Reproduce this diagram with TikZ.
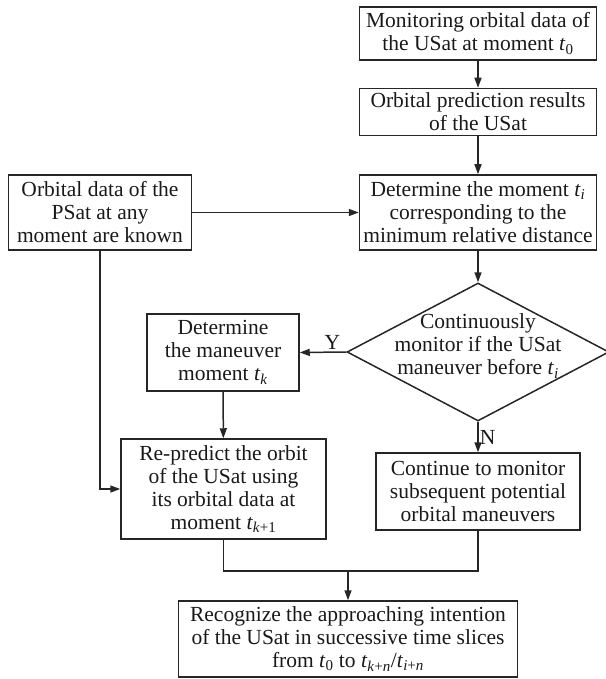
\documentclass[tikz,border=0pt]{standalone}
\usepackage{fontspec}
\setmainfont{Liberation Serif}
\usetikzlibrary{arrows.meta,shapes.geometric}
\newcommand\tsb[1]{\textit{t}\textsubscript{#1}}
\begin{document}
\begin{tikzpicture}[x=1pt,y=-1pt,
  box/.style={draw=black!85, line width=1.5pt, align=center, inner sep=0pt,
    font=\fontsize{21.5}{23}\selectfont, text=black!90},
  lbl/.style={font=\fontsize{21.5}{23}\selectfont, text=black!90, inner sep=2pt},
  conn/.style={draw=black!85, line width=1.5pt},
  arr/.style={conn, -{Triangle[length=10pt,width=7pt]}},
]
\useasboundingbox (0,0) rectangle (605,679);
\node[box, minimum width=237, minimum height=53] (n1) at (478,33.5)
  {Monitoring orbital data of\\the USat at moment \tsb{0}};
\node[box, minimum width=237, minimum height=47] (n2) at (478,112)
  {Orbital prediction results\\of the USat};
\node[box, minimum width=237, minimum height=75] (n3) at (478,212.5)
  {Determine the moment \tsb{\textit{i}}\\corresponding to the\\minimum relative distance};
\node[box, minimum width=183, minimum height=75] (nL) at (100,212.5)
  {Orbital data of the\\PSat at any\\moment are known};
\node[conn, diamond, minimum width=262, minimum height=138, inner sep=0pt] (d) at (478,352) {};
\node[lbl, align=center] (dt) at (478,346)
  {Continuously\\monitor if the USat\\maneuver before \tsb{\textit{i}}};
\node[box, minimum width=152, minimum height=77] (nM) at (223,352.5)
  {Determine\\the maneuver\\moment \tsb{\textit{k}}};
\node[box, minimum width=205, minimum height=100] (nR) at (223.5,489)
  {Re-predict the orbit\\of the USat using\\its orbital data at\\moment \tsb{\textit{k}+1}};
\node[box, minimum width=204, minimum height=77] (nC) at (478,491.5)
  {Continue to monitor\\subsequent potential\\orbital maneuvers};
\node[box, minimum width=339, minimum height=76] (nF) at (348,639)
  {Recognize the approaching intention\\of the USat in successive time slices\\from \tsb{0} to \tsb{\textit{k}+\textit{n}}/\tsb{\textit{i}+\textit{n}}};
\coordinate (m) at (348,571);

\draw[arr] (n1) -- (n2);
\draw[arr] (n2) -- (n3);
\draw[arr] (nL) -- (n3);
\draw[arr] (n3) -- (d.north);
\draw[arr] (d.west) -- node[lbl, above, pos=0.3] {Y} (nM.east);
\draw[arr] (d.south) -- node[lbl, right, inner sep=1pt] {N} (nC.north);
\draw[arr] (nM) -- (nR);
\draw[arr] (nL.south) |- (nR.west);
\draw[conn] (nR.south) |- (m);
\draw[conn] (nC.south) |- (m);
\draw[arr] (m) -- (nF.north);
\end{tikzpicture}
\end{document}
